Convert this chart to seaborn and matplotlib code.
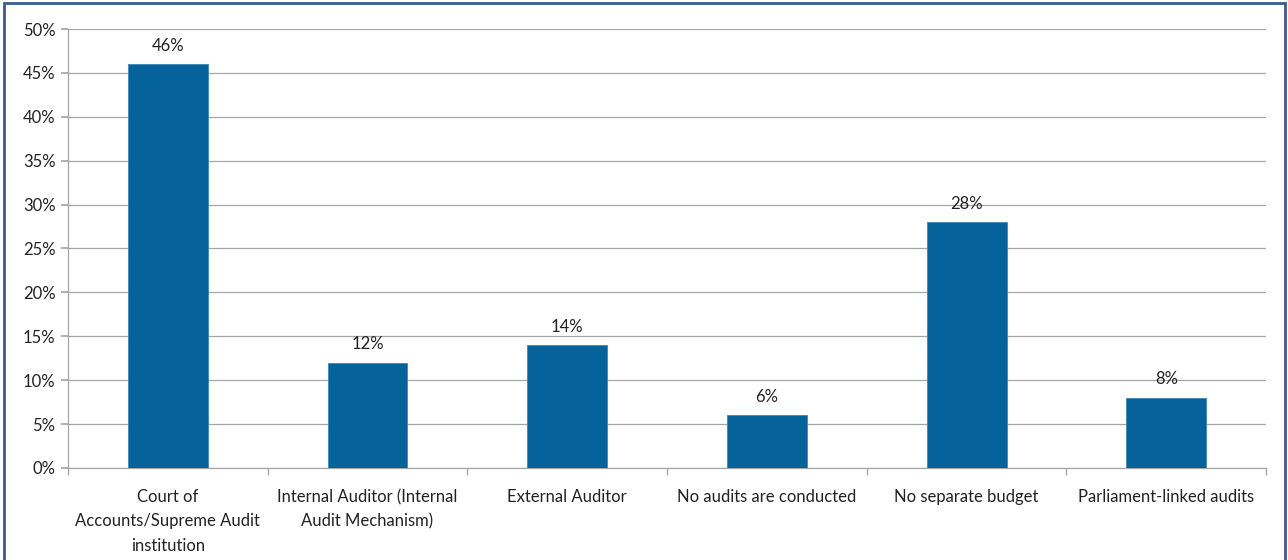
import matplotlib
matplotlib.use("Agg")
import matplotlib.pyplot as plt
import matplotlib.patches as mpatches
import numpy as np
import pandas as pd
import seaborn as sns

# chart data
categories = [
    "Court of\nAccounts/Supreme Audit\ninstitution",
    "Internal Auditor (Internal\nAudit Mechanism)",
    "External Auditor",
    "No audits are conducted",
    "No separate budget",
    "Parliament-linked audits",
]
shares = [46, 12, 14, 6, 28, 8]
y_ticks = [0, 5, 10, 15, 20, 25, 30, 35, 40, 45, 50]

df = pd.DataFrame({"category": categories, "share": shares})

sns.set_theme(style="white")
plt.rcParams["font.family"] = ["Lato", "DejaVu Sans"]

fig = plt.figure(figsize=(12.88, 5.6), dpi=100)
ax = fig.add_axes([0.0528, 0.1643, 0.9302, 0.7839])

sns.barplot(data=df, x="category", y="share", color="#05629A",
            width=0.4, saturation=1, ax=ax, zorder=3,
            edgecolor="#3f85b5", linewidth=0.6)

# value labels above bars
for i, v in enumerate(shares):
    ax.text(i, v + 1.2, f"{v}%", ha="center", va="bottom", fontsize=12,
            color="#222222")

ax.set_ylim(0, 50)
ax.set_xlim(-0.5, len(categories) - 0.5)
ax.set_yticks(y_ticks)
ax.set_yticklabels([f"{t}%" for t in y_ticks], fontsize=12, color="#222222")
ax.yaxis.grid(True, color="#a6a6a6", linewidth=0.9, zorder=0)
ax.set_axisbelow(True)

# category labels between boundary ticks
ax.set_xticks(np.arange(len(categories)))
ax.set_xticklabels(categories, fontsize=12, color="#222222", linespacing=1.65)
ax.tick_params(axis="x", length=0, pad=15)
ax.set_xticks(np.arange(-0.5, len(categories)), minor=True)
ax.tick_params(axis="x", which="minor", length=5, color="#a6a6a6",
               direction="out", bottom=True)
ax.tick_params(axis="y", length=5, color="#a6a6a6", direction="out",
               left=True, pad=4)

ax.set_xlabel("")
ax.set_ylabel("")
for side in ["top", "right"]:
    ax.spines[side].set_visible(False)
for side in ["left", "bottom"]:
    ax.spines[side].set_color("#a6a6a6")
    ax.spines[side].set_linewidth(0.9)

# outer frame
fig.patches.append(mpatches.Rectangle((0.003, -0.01), 0.995, 1.005,
                                      transform=fig.transFigure, fill=False,
                                      edgecolor="#385d8a", linewidth=2))

fig.savefig("out.png", dpi=100)
